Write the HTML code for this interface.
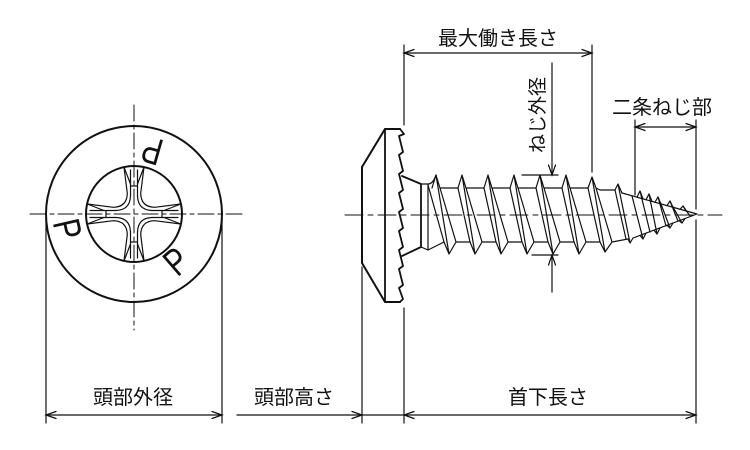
<!DOCTYPE html>
<html><head><meta charset="utf-8"><style>
html,body{margin:0;padding:0;background:#fff;}
svg{display:block;}
text{font-family:"Liberation Sans","Noto Sans CJK JP",sans-serif;fill:#111;}
</style></head><body>
<svg width="750" height="450" viewBox="0 0 750 450" xmlns="http://www.w3.org/2000/svg">
<rect width="750" height="450" fill="#fff"/>
<g fill="none" stroke="#111" stroke-linecap="round" stroke-linejoin="round">

<!-- LEFT VIEW -->
<g stroke-width="1" stroke-dasharray="16 4 4 4">
<line x1="30" y1="214" x2="246" y2="214"/>
<line x1="134" y1="105" x2="134" y2="330"/>
</g>
<circle cx="134" cy="214" r="88" stroke-width="2"/>
<circle cx="134" cy="214" r="48" stroke-width="2"/>
<g transform="translate(134,214)" stroke-width="1.2">
<path d="M-10,-46.9 L-6.7,-20.7 Q-7,-7 -20.7,-6.7 L-46.9,-10"/>
<path d="M10,-46.9 L6.7,-20.7 Q7,-7 20.7,-6.7 L46.9,-10"/>
<path d="M-10,46.9 L-6.7,20.7 Q-7,7 -20.7,6.7 L-46.9,10"/>
<path d="M10,46.9 L6.7,20.7 Q7,7 20.7,6.7 L46.9,10"/>
<path d="M-3.5,-44 L-3.5,-18 M3.5,-44 L3.5,-18 M-3.5,-28 L3.5,-28"/>
<path d="M-3.5,44 L-3.5,18 M3.5,44 L3.5,18 M-3.5,28 L3.5,28"/>
<path d="M-44,-3.5 L-18,-3.5 M-44,3.5 L-18,3.5 M-28,-3.5 L-28,3.5"/>
<path d="M44,-3.5 L18,-3.5 M44,3.5 L18,3.5 M28,-3.5 L28,3.5"/>
<path d="M-3.5,-18 Q-4,-4 -18,-3.5 M3.5,-18 Q4,-4 18,-3.5 M-3.5,18 Q-4,4 -18,3.5 M3.5,18 Q4,4 18,3.5"/>
<path d="M-10,-46.9 L-3.5,-30 M10,-46.9 L3.5,-30 M-10,46.9 L-3.5,30 M10,46.9 L3.5,30"/>
<path d="M-46.9,-10 L-30,-3.5 M-46.9,10 L-30,3.5 M46.9,-10 L30,-3.5 M46.9,10 L30,3.5"/>
</g>

<!-- SIDE VIEW center line -->
<line x1="345" y1="215" x2="722" y2="215" stroke-width="1" stroke-dasharray="18 5 5 5"/>

<!-- head -->
<path d="M400,129 L385,129 L362,167 L362,263 L385,302 L400,302" stroke-width="2"/>
<line x1="385" y1="129" x2="385" y2="302" stroke-width="1.8"/>
<path stroke-width="1.8" d="M400,129 L404,134 L399,136 L403,152 L399,155 L403,171 L399,174 L403,190 L399,193 L403,209 L399,212 L403,228 L399,231 L403,247 L399,250 L403,266 L399,269 L403,285 L399,288 L403,299 L400,302"/>
<!-- neck -->
<path d="M402,176 L421,184 L421,247 L402,256" stroke-width="1.8"/>
<path d="M421,184 L428,184 Q433,184 436,175 M428,184 L428,250 L421,247" stroke-width="1.2"/>

<!-- threads -->
<g stroke-width="1.2">
<path d="M428,185 L444,242"/>
<path d="M432,188 L436,175 L440,188 M436,175 L449,254 M440,188 L456,242 M444,242 L449,254 L456,242 M440,188 L458,188 M428,250 L444,242 M456,242 L470,242"/>
<path d="M458,188 L462,175 L466,188 M462,175 L475,254 M458,188 L470,242 M466,188 L482,242 M470,242 L475,254 L482,242 M466,188 L484,188 M482,242 L496,242"/>
<path d="M484,188 L488,175 L492,188 M488,175 L501,254 M484,188 L496,242 M492,188 L508,242 M496,242 L501,254 L508,242 M492,188 L510,188 M508,242 L522,242"/>
<path d="M510,188 L514,175 L518,188 M514,175 L527,254 M510,188 L522,242 M518,188 L534,242 M522,242 L527,254 L534,242 M518,188 L536,188 M534,242 L548,242"/>
<path d="M536,188 L540,175 L544,188 M540,175 L553,254 M536,188 L548,242 M544,188 L560,242 M548,242 L553,254 L560,242 M544,188 L562,188 M560,242 L574,242"/>
<path d="M562,188 L566,175 L570,188 M566,175 L579,254 M562,188 L574,242 M570,188 L586,242 M574,242 L579,254 L586,242 M570,188 L588,188 M586,242 L600,242"/>
<path d="M588,188 L592,177 L596,188 M592,177 L605,252 M588,188 L600,242 M596,188 L612,242 M600,242 L605,252 L612,242 M596,188 L600,190 L615,190 M612,242 L628,239"/>
<path d="M615,190 L618,184 L622,193 M618,184 L630,243 M615,190 L626,239 M628,239 L630,243 L633,238"/>
<path d="M622,193 L697,214 L633,238"/>
<path d="M637,197.2 L640,191 L643,198.9 M646,199.7 L649,194 L652,201.4 M655,202.2 L658,197 L661,204 M667,205.6 L670,201 L673,207.2 M680,209.3 L683,206 L686,211"/>
<path d="M640,235.4 L643,239 L646,233.1 M654,230.1 L657,234 L660,227.9 M667,225.3 L670,228 L673,223 M679,220.7 L682,223 L685,218.5"/>
<path d="M632,196 L643,239 M640,191 L650,232 M649,194 L657,234 M658,197 L666,226 M661,204 L670,228 M670,201 L678,221 M673,207 L682,223 M683,206 L690,216"/>
</g>
</g>

<!-- DIMENSIONS -->
<g fill="none" stroke="#111" stroke-width="1.2" stroke-linecap="round">
<line x1="46" y1="218" x2="46" y2="423"/>
<line x1="222" y1="218" x2="222" y2="423"/>
<line x1="362" y1="267" x2="362" y2="423"/>
<line x1="404" y1="45" x2="404" y2="125"/>
<line x1="404" y1="308" x2="404" y2="423"/>
<line x1="696" y1="120" x2="696" y2="209"/>
<line x1="696" y1="220" x2="696" y2="423"/>
<line x1="592" y1="45" x2="592" y2="172"/>
<line x1="635" y1="120" x2="635" y2="195"/>
<line x1="522" y1="175" x2="558" y2="175"/>
<line x1="532" y1="255" x2="558" y2="255"/>
<line x1="46" y1="415" x2="222" y2="415"/>
<line x1="237" y1="415" x2="404" y2="415"/>
<line x1="404" y1="415" x2="696" y2="415"/>
<line x1="404" y1="53" x2="592" y2="53"/>
<line x1="635" y1="127" x2="696" y2="127"/>
<line x1="552" y1="63" x2="552" y2="175"/>
<line x1="552" y1="255" x2="552" y2="292"/>
<path d="M56,411.5 L46,415 L56,418.5"/>
<path d="M212,411.5 L222,415 L212,418.5"/>
<path d="M352,411.5 L362,415 L352,418.5"/>
<path d="M414,411.5 L404,415 L414,418.5"/>
<path d="M686,411.5 L696,415 L686,418.5"/>
<path d="M414,49.5 L404,53 L414,56.5"/>
<path d="M582,49.5 L592,53 L582,56.5"/>
<path d="M645,123.5 L635,127 L645,130.5"/>
<path d="M686,123.5 L696,127 L686,130.5"/>
<path d="M548.5,165 L552,175 L555.5,165"/>
<path d="M548.5,265 L552,255 L555.5,265"/>
</g>

<!-- P marks -->
<g font-size="38">
<text transform="translate(152,151) rotate(196) scale(0.78,1)" x="0" y="13.5" text-anchor="middle">P</text>
<text transform="translate(68,229) rotate(77) scale(0.78,1)" x="0" y="13.5" text-anchor="middle">P</text>
<text transform="translate(176,261) rotate(-41) scale(0.78,1)" x="0" y="13.5" text-anchor="middle">P</text>
</g>

<!-- labels -->
<g font-size="20" text-anchor="middle">
<text x="133" y="404">頭部外径</text>
<text x="294" y="404">頭部高さ</text>
<text x="548" y="404">首下長さ</text>
<text x="498" y="45">最大働き長さ</text>
<text x="662" y="114">二条ねじ部</text>
<text transform="translate(537,115) rotate(-90)" x="0" y="7" font-size="19">ねじ外径</text>
</g>
</svg>
</body></html>
